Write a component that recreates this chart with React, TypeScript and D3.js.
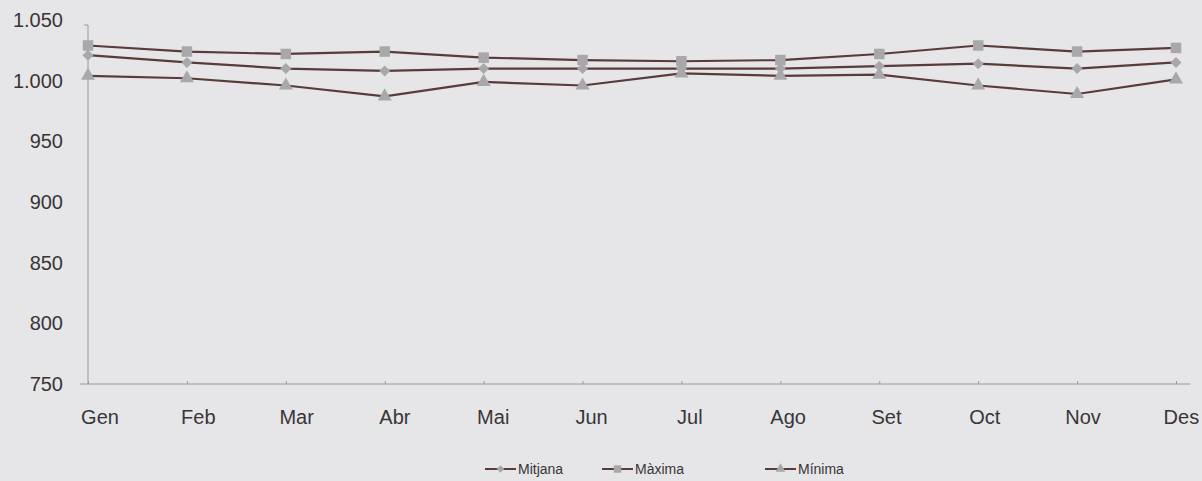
import React, { useEffect, useRef } from "react";
import * as d3 from "d3";

const months = ["Gen", "Feb", "Mar", "Abr", "Mai", "Jun", "Jul", "Ago", "Set", "Oct", "Nov", "Des"];
const mitjana = [1021, 1015, 1010, 1008, 1010, 1010, 1010, 1010, 1012, 1014, 1010, 1015];
const maxima = [1029, 1024, 1022, 1024, 1019, 1017, 1016, 1017, 1022, 1029, 1024, 1027];
const minima = [1004, 1002, 996, 987, 999, 996, 1006, 1004, 1005, 996, 989, 1001];
const yTicks = [750, 800, 850, 900, 950, 1000, 1050];

const W = 1202;
const H = 481;

const App = () => {
  const ref = useRef<SVGSVGElement>(null);

  useEffect(() => {
    const svg = d3.select(ref.current);
    svg.selectAll("*").remove();

    const lineColor = "#5a3b3c";
    const markColor = "#a8a8aa";
    const textColor = "#3a3437";
    const font = "Liberation Sans, Arial, sans-serif";

    svg.append("rect").attr("width", W).attr("height", H).attr("fill", "#e6e6e8");

    const x = d3.scalePoint<string>().domain(months).range([88, 1176]);
    const y = d3.scaleLinear().domain([750, 1050]).range([384, 20]);

    // y axis
    svg.append("line")
      .attr("x1", 88).attr("x2", 88)
      .attr("y1", y(1050) + 5).attr("y2", y(750))
      .attr("stroke", "#9a9a9c").attr("stroke-width", 1);
    svg.append("line")
      .attr("x1", 84).attr("x2", 88)
      .attr("y1", y(1050) + 5).attr("y2", y(1050) + 5)
      .attr("stroke", "#9a9a9c");

    svg.selectAll(".ylab")
      .data(yTicks)
      .enter()
      .append("text")
      .attr("x", 63)
      .attr("y", (d) => y(d))
      .attr("dy", "0.35em")
      .attr("text-anchor", "end")
      .attr("font-family", font)
      .attr("font-size", 20)
      .attr("fill", textColor)
      .text((d) => d3.format(",")(d).replace(",", "."));

    // x axis
    const xAxis = svg.append("g")
      .attr("transform", `translate(0, ${y(750)})`)
      .call(d3.axisBottom(x).tickSize(4).tickSizeOuter(0).tickFormat(() => ""));
    xAxis.select(".domain").attr("stroke", "#9a9a9c").attr("d", "M80,0H1190");
    xAxis.selectAll(".tick line").attr("stroke", "#9a9a9c").attr("y1", -3).attr("y2", 0);

    svg.selectAll(".xlab")
      .data(months)
      .enter()
      .append("text")
      .attr("x", (d, i) => (x(d) as number) + 12 - i * 0.6)
      .attr("y", 424)
      .attr("text-anchor", "middle")
      .attr("font-family", font)
      .attr("font-size", 20)
      .attr("fill", textColor)
      .text((d) => d);

    const series = [
      { name: "Mitjana", values: mitjana, shape: d3.symbolSquare, size: 60, rot: 45 },
      { name: "Màxima", values: maxima, shape: d3.symbolSquare, size: 110, rot: 0 },
      { name: "Mínima", values: minima, shape: d3.symbolTriangle, size: 85, rot: 0 },
    ];

    const line = d3.line<number>()
      .x((d, i) => x(months[i]) as number)
      .y((d) => y(d));

    series.forEach((s) => {
      svg.append("path")
        .datum(s.values)
        .attr("fill", "none")
        .attr("stroke", lineColor)
        .attr("stroke-width", 2.2)
        .attr("d", line);
    });

    series.forEach((s) => {
      svg.selectAll(null)
        .data(s.values)
        .enter()
        .append("path")
        .attr("transform", (d, i) => `translate(${x(months[i])}, ${y(d)}) rotate(${s.rot})`)
        .attr("d", d3.symbol().type(s.shape).size(s.size)())
        .attr("fill", markColor);
    });

    // legend
    const legendX = [485, 602, 765];
    series.forEach((s, i) => {
      const g = svg.append("g").attr("transform", `translate(${legendX[i]}, 469)`);
      g.append("line")
        .attr("x1", 0).attr("x2", 31)
        .attr("y1", 0).attr("y2", 0)
        .attr("stroke", lineColor).attr("stroke-width", 2);
      g.append("path")
        .attr("transform", `translate(15.5, 0) rotate(${s.rot})`)
        .attr("d", d3.symbol().type(s.shape).size(s.size * 0.5)())
        .attr("fill", markColor);
      g.append("text")
        .attr("x", 33)
        .attr("y", 0)
        .attr("dy", "0.35em")
        .attr("font-family", font)
        .attr("font-size", 14)
        .attr("fill", textColor)
        .text(s.name);
    });
  }, []);

  return (
    <svg
      ref={ref}
      width={W}
      height={H}
      style={{ position: "absolute", left: 0, top: 0, display: "block" }}
    />
  );
};

export default App;
